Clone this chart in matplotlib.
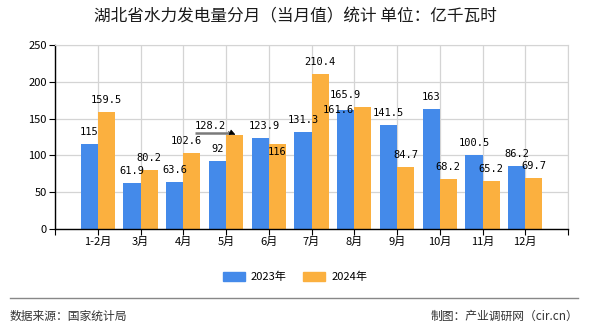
"""湖北省水力发电量分月（当月值）统计 — grouped bars, 2023 vs 2024."""
import matplotlib
matplotlib.use('Agg')
import matplotlib.pyplot as plt
import matplotlib.patches as mpatches
import matplotlib.transforms as mtrans
from matplotlib.lines import Line2D
import numpy as np

plt.rcParams['font.family'] = ['Noto Sans CJK SC', 'DejaVu Sans']

months = ['1-2月', '3月', '4月', '5月', '6月', '7月', '8月', '9月', '10月', '11月', '12月']
v2023 = [115, 61.9, 63.6, 92, 123.9, 131.3, 161.6, 141.5, 163, 100.5, 86.2]
v2024 = [159.5, 80.2, 102.6, 128.2, 116, 210.4, 165.9, 84.7, 68.2, 65.2, 69.7]
labels_2023 = ['115', '61.9', '63.6', '92', '123.9', '131.3', '161.6', '141.5', '163', '100.5', '86.2']
labels_2024 = ['159.5', '80.2', '102.6', '128.2', '116', '210.4', '165.9', '84.7', '68.2', '65.2', '69.7']
series_names = ['2023年', '2024年']

BLUE = '#448aea'
ORANGE = '#fbb03f'
GRID = '#d4d4d4'
PX = 0.72  # points per pixel at dpi 100

# label nudges (pixels, dx right, dy up) where the original avoided collisions
NUDGE_23 = {4: (4, 0), 6: (-7, -12)}
NUDGE_24 = {2: (-5, 0), 3: (-24, -3), 4: (0, -20), 6: (-17, 0)}

fig = plt.figure(figsize=(5.9, 3.3), dpi=100)
ax = fig.add_axes([55 / 590, 1 - 229 / 330, 513 / 590, 184 / 330])

x = np.arange(len(months))
w = 0.4
ax.bar(x - w / 2, v2023, width=w, color=BLUE, zorder=2)
ax.bar(x + w / 2, v2024, width=w, color=ORANGE, zorder=2)


def put_labels(xs, vals, texts, nudge):
    for i, (xx, v, t) in enumerate(zip(xs, vals, texts)):
        dx, dy = nudge.get(i, (0, 0))
        ax.annotate(t, xy=(xx, v), xytext=(dx * PX, (12 + dy) * PX),
                    textcoords='offset points', ha='center', va='center',
                    fontsize=7.5, family=['DejaVu Sans Mono'], zorder=4)


put_labels(x - w / 2, v2023, labels_2023, NUDGE_23)
put_labels(x + w / 2, v2024, labels_2024, NUDGE_24)

# pointer under the shifted 128.2 label: grey horizontal line, black head
xo = 3 + w / 2
up = mtrans.offset_copy(ax.transData, fig=fig, x=0, y=2 * PX, units='points')
ax.plot([xo - 0.92, xo - 0.1], [v2024[3], v2024[3]], color='#7a7a7a', lw=1.8,
        transform=up, zorder=5, solid_capstyle='butt')
ax.annotate('', xy=(xo + 0.02, v2024[3]), xytext=(-7 * PX, 3 * PX),
            textcoords='offset points', zorder=6,
            arrowprops=dict(arrowstyle='-|>', color='black', lw=0.5,
                            mutation_scale=9, shrinkA=0, shrinkB=0))

ax.set_xlim(-1, 11)
ax.set_ylim(0, 250)
ax.set_yticks(np.arange(0, 251, 50))
ax.set_xticks(np.arange(-1, 12))
ax.set_xticklabels([''] + months + [''])
ax.tick_params(axis='both', labelsize=8, length=4, color='black', pad=2)
ax.grid(True, color=GRID, lw=0.9, zorder=0)
ax.set_axisbelow(True)
for s in ['top', 'right']:
    ax.spines[s].set_color(GRID)
for s in ['left', 'bottom']:
    ax.spines[s].set_color('black')
    ax.spines[s].set_linewidth(1)

fig.text(0.5, 1 - 17 / 330, '湖北省水力发电量分月（当月值）统计 单位：亿千瓦时',
         ha='center', va='center', fontsize=12, color='#1a1a1a')

handles = [mpatches.Patch(color=BLUE, label=series_names[0]),
           mpatches.Patch(color=ORANGE, label=series_names[1])]
fig.legend(handles=handles, loc='center', bbox_to_anchor=(0.5, 1 - 277 / 330),
           ncol=2, frameon=False, fontsize=8, handlelength=2.0,
           handleheight=0.8, columnspacing=1.5, handletextpad=0.5)

fig.add_artist(Line2D([10 / 590, 578 / 590], [1 - 298 / 330] * 2,
                      color='#888888', lw=1))
fig.text(10 / 590, 1 - 316 / 330, '数据来源：国家统计局', ha='left', va='center',
         fontsize=8.5, color='#333333')
fig.text(578 / 590, 1 - 316 / 330, '制图：产业调研网（cir.cn）', ha='right', va='center',
         fontsize=8.5, color='#333333')

fig.savefig('out.png', dpi=100)
